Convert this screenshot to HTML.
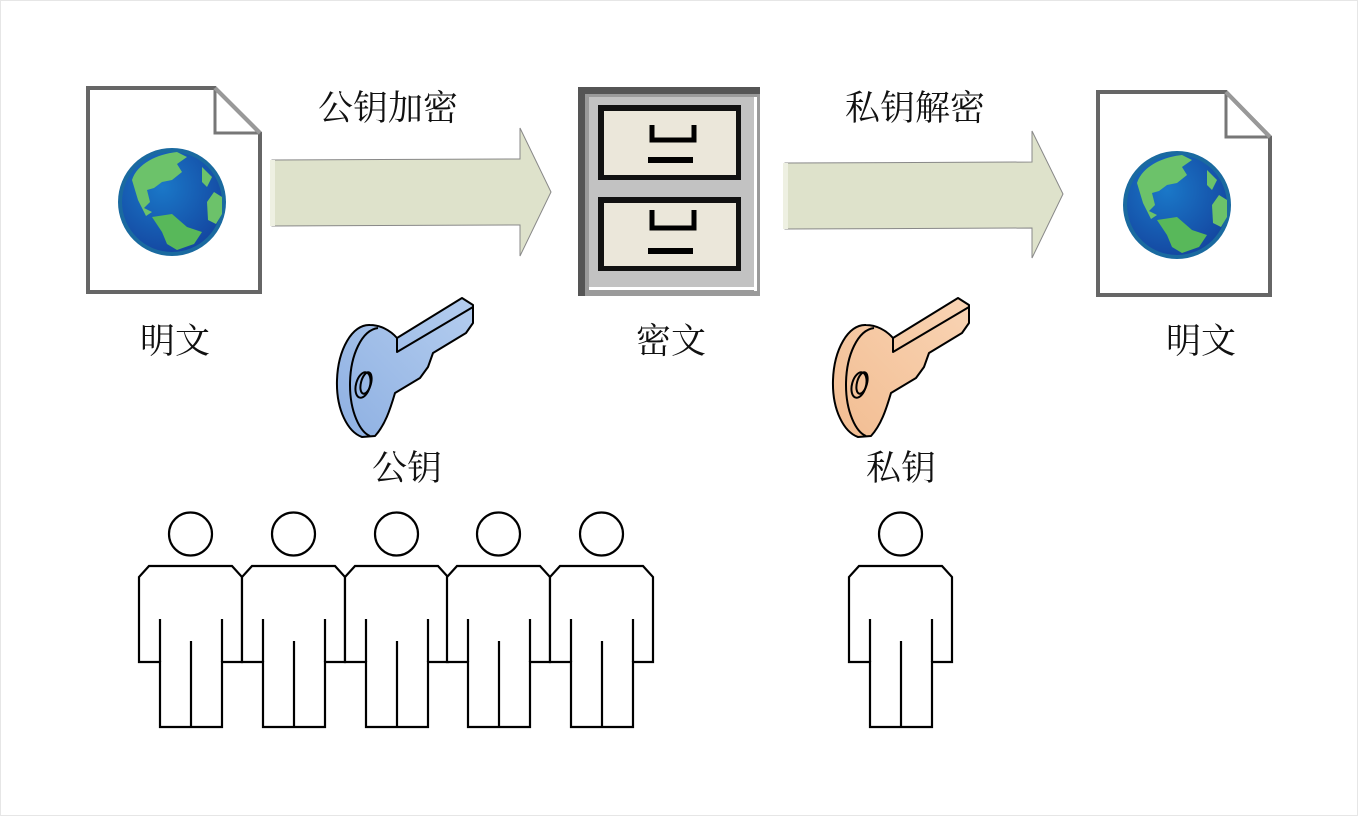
<!DOCTYPE html>
<html><head><meta charset="utf-8"><style>
html,body{margin:0;padding:0;background:#fff}
svg{display:block}
text{font-family:"Liberation Serif","Noto Serif CJK SC","Noto Sans CJK SC",serif;font-size:35px;fill:#111}
</style></head><body>
<svg width="1358" height="816" viewBox="0 0 1358 816" xmlns="http://www.w3.org/2000/svg">
<defs>
<radialGradient id="sea" cx="0.4" cy="0.35" r="0.7"><stop offset="0" stop-color="#1a78c8"/><stop offset="1" stop-color="#1446a0"/></radialGradient>
<linearGradient id="kb" x1="0" y1="1" x2="1" y2="0"><stop offset="0" stop-color="#8eb0e2"/><stop offset="1" stop-color="#b4cdef"/></linearGradient>
<linearGradient id="ko" x1="0" y1="1" x2="1" y2="0"><stop offset="0" stop-color="#f2bd92"/><stop offset="1" stop-color="#f9d4b4"/></linearGradient>
<g id="globe">
<circle r="54" fill="#1a6aa0"/>
<circle r="50" fill="url(#sea)"/>
<path d="M-40,-22 C-35,-38 -15,-48 5,-50 L15,-45 L5,-38 L10,-30 L0,-22 L-10,-20 L-18,-14 L-25,-12 L-22,0 L-28,6 L-20,10 L-26,14 L-34,-2 Z" fill="#6cc26a"/>
<path d="M30,-35 L40,-25 L35,-15 L30,-20 Z" fill="#6cc26a"/>
<path d="M42,-10 L50,-5 L50,12 L44,22 L36,18 L35,0 Z" fill="#6cc26a"/>
<path d="M-20,15 L0,12 L15,25 L30,30 L22,42 L5,48 L-5,42 L-10,30 Z" fill="#58b85a"/>
</g>
<g id="person" fill="#fff" stroke="#000" stroke-width="2.2">
<circle cx="51.5" cy="-32" r="21.5"/>
<path d="M10,0 L93,0 L103,11 L103,96 L83,96 L83,161 L21,161 L21,96 L0,96 L0,11 Z"/>
<path d="M21,96 L21,53 M83,96 L83,53 M52,161 L52,75" fill="none"/>
</g>
</defs>
<rect x="0.5" y="0.5" width="1357" height="815" fill="#fff" stroke="#e6e6e6"/>

<path d="M88,88 L215,88 L260,133 L260,292 L88,292 Z" fill="#fff" stroke="#666" stroke-width="4"/>
<path d="M215,88 L215,133 L260,133" fill="none" stroke="#777" stroke-width="3"/>
<path d="M215,88 L260,133" stroke="#999" stroke-width="4"/>
<use href="#globe" x="172" y="202"/>

<path d="M1098,92 L1226,92 L1270,137 L1270,295 L1098,295 Z" fill="#fff" stroke="#666" stroke-width="4"/>
<path d="M1226,92 L1226,137 L1270,137" fill="none" stroke="#777" stroke-width="3"/>
<path d="M1226,92 L1270,137" stroke="#999" stroke-width="4"/>
<use href="#globe" x="1177" y="205"/>

<path d="M272,160 L520,159 L520,128 L551,192 L520,256 L520,225 L272,226 Z" fill="#dee2cb" stroke="#888" stroke-width="1"/>
<rect x="270" y="160" width="5" height="66" fill="#eef0e2"/>
<path d="M785,163 L1032,162 L1032,131 L1063,194 L1032,258 L1032,228 L785,229 Z" fill="#dee2cb" stroke="#888" stroke-width="1"/>
<rect x="783" y="163" width="5" height="66" fill="#eef0e2"/>

<rect x="578" y="87" width="182" height="209" fill="#555"/>
<rect x="585" y="94" width="175" height="202" fill="#9a9a9a"/>
<rect x="589" y="97" width="165" height="193" fill="#c2c2c2"/>
<rect x="754" y="97" width="3" height="194" fill="#fff"/>
<rect x="589" y="287" width="166" height="3" fill="#fff"/>
<rect x="598" y="105" width="143" height="75" fill="#111"/>
<rect x="604" y="111" width="132" height="64" fill="#ebe7da"/>
<rect x="598" y="197" width="143" height="74" fill="#111"/>
<rect x="604" y="203" width="132" height="63" fill="#ebe7da"/>
<path d="M652,125 L652,140 L694,140 L694,125" fill="none" stroke="#000" stroke-width="5"/>
<rect x="648" y="157" width="45" height="6" fill="#000"/>
<path d="M652,210 L652,228 L694,228 L694,210" fill="none" stroke="#000" stroke-width="5"/>
<rect x="648" y="248" width="45" height="6" fill="#000"/>

<g stroke="#000" stroke-width="2" stroke-linejoin="round">
<path d="M370,325 C352,324 338,350 337,380 C336,410 348,432 362,437 L375,436 C385,425 390,410 395,393 L420,378 L428,367 L433,353 L466,333 L473,323 L473,305 L462,298 L397,338 C390,330 380,325 370,325 Z" fill="url(#kb)"/>
<path d="M378,328 C362,330 350,355 350,385 C350,412 360,432 370,436" fill="none"/>
<path d="M397,338 L397,352 L473,307" fill="none"/>
<ellipse cx="363" cy="385" rx="7" ry="13" fill="none" transform="rotate(15 363 385)"/>
<ellipse cx="366" cy="383" rx="5" ry="11" fill="none" transform="rotate(15 366 383)"/>
</g>
<g transform="translate(496,0)" stroke="#000" stroke-width="2" stroke-linejoin="round">
<path d="M370,325 C352,324 338,350 337,380 C336,410 348,432 362,437 L375,436 C385,425 390,410 395,393 L420,378 L428,367 L433,353 L466,333 L473,323 L473,305 L462,298 L397,338 C390,330 380,325 370,325 Z" fill="url(#ko)"/>
<path d="M378,328 C362,330 350,355 350,385 C350,412 360,432 370,436" fill="none"/>
<path d="M397,338 L397,352 L473,307" fill="none"/>
<ellipse cx="363" cy="385" rx="7" ry="13" fill="none" transform="rotate(15 363 385)"/>
<ellipse cx="366" cy="383" rx="5" ry="11" fill="none" transform="rotate(15 366 383)"/>
</g>

<text x="318" y="120">公钥加密</text>
<text x="845" y="120">私钥解密</text>
<text x="140" y="353">明文</text>
<text x="636" y="353">密文</text>
<text x="1166" y="353">明文</text>
<text x="372" y="480">公钥</text>
<text x="866" y="480">私钥</text>

<use href="#person" x="139" y="566"/>
<use href="#person" x="242" y="566"/>
<use href="#person" x="345" y="566"/>
<use href="#person" x="447" y="566"/>
<use href="#person" x="550" y="566"/>
<use href="#person" x="849" y="566"/>
</svg>
</body></html>
